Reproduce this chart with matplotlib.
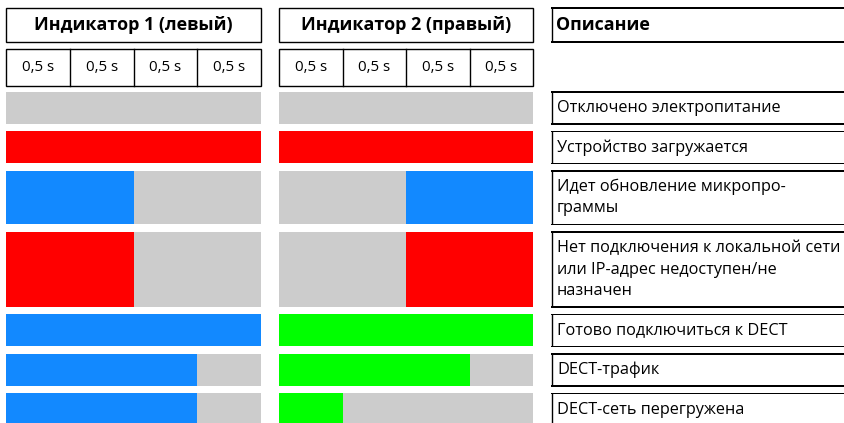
import matplotlib
matplotlib.use("Agg")
import matplotlib.pyplot as plt
from matplotlib.patches import Rectangle

# ---- data ----
headers = ["Индикатор 1 (левый)", "Индикатор 2 (правый)", "Описание"]
quarter_labels = ["0,5 s", "0,5 s", "0,5 s", "0,5 s"]
descriptions = [
    "Отключено электропитание",
    "Устройство загружается",
    "Идет обновление микропро-\nграммы",
    "Нет подключения к локальной сети\nили IP-адрес недоступен/не\nназначен",
    "Готово подключиться к DECT",
    "DECT-трафик",
    "DECT-сеть перегружена",
]
left_states = [
    ["off", "off", "off", "off"],
    ["red", "red", "red", "red"],
    ["blue", "blue", "off", "off"],
    ["red", "red", "off", "off"],
    ["blue", "blue", "blue", "blue"],
    ["blue", "blue", "blue", "off"],
    ["blue", "blue", "blue", "off"],
]
right_states = [
    ["off", "off", "off", "off"],
    ["red", "red", "red", "red"],
    ["off", "off", "blue", "blue"],
    ["off", "off", "red", "red"],
    ["green", "green", "green", "green"],
    ["green", "green", "green", "off"],
    ["green", "off", "off", "off"],
]
state_colors = {"off": "#CCCCCC", "red": "#FF0000", "blue": "#1289FF", "green": "#00FF00"}

# ---- layout ----
W, H = 845, 423
fig = plt.figure(figsize=(W / 100, H / 100), dpi=100)
ax = fig.add_axes([0, 0, 1, 1])
ax.set_xlim(0, W)
ax.set_ylim(H, 0)
ax.axis("off")

FONT = ["Open Sans", "DejaVu Sans"]
ind_x = [(6.5, 261), (279.5, 533)]
desc_x = 552
lw = 1.0
px = 1.4  # stroke thickness in pixels


def open_box(y0, y1):
    # left, top and bottom edges only; the box runs off the right edge
    for yy in (y0, y1):
        ax.add_patch(Rectangle((desc_x - px / 2, yy - px / 2), W + 20 - desc_x, px,
                               facecolor="black", edgecolor="none", lw=0))
    ax.vlines([desc_x], y0, y1, colors="black", lw=lw)


# header row
hy0, hy1 = 8, 42
for (x0, x1), text in zip(ind_x, headers[:2]):
    ax.add_patch(Rectangle((x0, hy0), x1 - x0, hy1 - hy0, fill=False, ec="black", lw=lw))
    ax.text((x0 + x1) / 2, (hy0 + hy1) / 2 + 0.5, text, ha="center", va="center",
            fontsize=12.9, fontweight="bold", family=FONT)
open_box(hy0, hy1)
ax.text(desc_x + 4, (hy0 + hy1) / 2 + 0.5, headers[2], ha="left", va="center",
        fontsize=12.9, fontweight="bold", family=FONT)

# timing row
ty0, ty1 = 49, 86
for (x0, x1) in ind_x:
    qw = (x1 - x0) / len(quarter_labels)
    ax.add_patch(Rectangle((x0, ty0), x1 - x0, ty1 - ty0, fill=False, ec="black", lw=lw))
    for i, lab in enumerate(quarter_labels):
        if i > 0:
            ax.plot([x0 + i * qw] * 2, [ty0, ty1], color="black", lw=lw)
        ax.text(x0 + (i + 0.5) * qw, (ty0 + ty1) / 2, lab, ha="center", va="center",
                fontsize=10.9, family=FONT)

# state rows
y = 92
gap = 7.5
line_h = 21.5
for desc, ls, rs in zip(descriptions, left_states, right_states):
    n = desc.count("\n") + 1
    h = 32 + line_h * (n - 1)
    for (x0, x1), states in zip(ind_x, [ls, rs]):
        qw = (x1 - x0) / len(states)
        i = 0
        while i < len(states):
            j = i
            while j + 1 < len(states) and states[j + 1] == states[i]:
                j += 1
            ax.barh(y + h / 2, (j - i + 1) * qw, left=x0 + i * qw, height=h,
                    color=state_colors[states[i]], linewidth=0, align="center")
            i = j + 1
    open_box(y, y + h)
    for k, line in enumerate(desc.split("\n")):
        ax.text(desc_x + 5, y + 16 + k * line_h, line, ha="left", va="center",
                fontsize=11.7, family=FONT)
    y += h + gap

fig.savefig("out.png", dpi=100)
